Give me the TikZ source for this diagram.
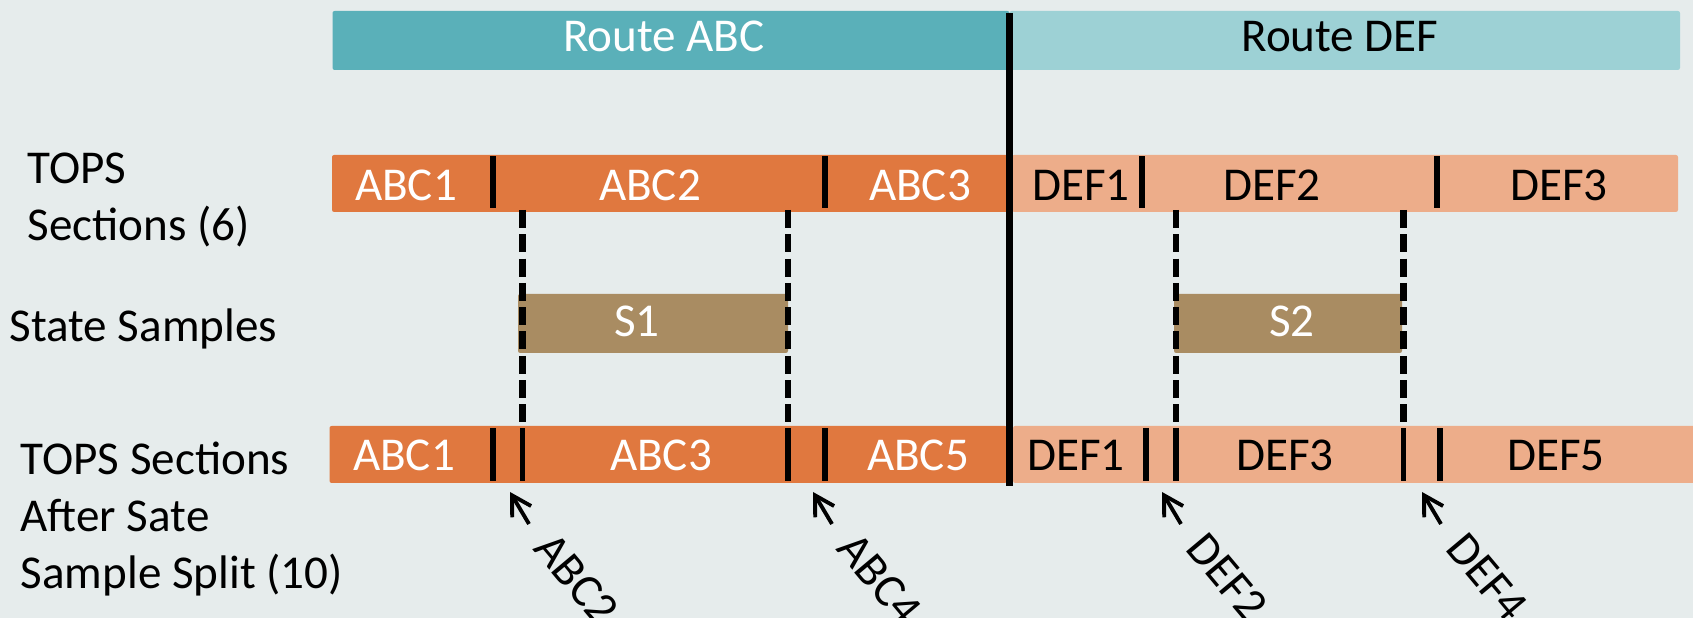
\documentclass[tikz,border=0pt]{standalone}
\usepackage{fontspec}
\setmainfont{Carlito}
\usetikzlibrary{arrows.meta}

\definecolor{routeabc}{HTML}{5AB0B9}
\definecolor{routedef}{HTML}{9DD1D5}
\definecolor{secabc}{HTML}{E0783F}
\definecolor{secdef}{HTML}{EDAD8A}
\definecolor{sample}{HTML}{A98C62}
\definecolor{backgr}{HTML}{E6ECEC}

\begin{document}
\begin{tikzpicture}[
    txt/.style={font=\fontsize{13.4}{16.3}\selectfont, inner sep=0pt},
    split/.style={line width=1.7pt},
    cut/.style={line width=1.8pt, dash pattern=on 0.18cm off 0.063cm},
    pin/.style={line width=1.1pt, -{Straight Barb[length=1.9mm,width=2.2mm]}}
  ]
    \useasboundingbox (0,0) rectangle (16.93,6.18);
    \clip (0,0) rectangle (16.93,6.18);
    \fill[backgr] (0,0) rectangle (16.93,6.18);

    % Routes
    \fill[routeabc, rounded corners=0.6pt] (3.325,5.48) rectangle (10.095,6.07);
    \fill[routedef, rounded corners=0.6pt] (10.095,5.48) rectangle (16.80,6.07);
    \node[txt, white, anchor=base] (rabc) at (6.64,5.66) {Route ABC};
    \node[txt, anchor=base] (rdef) at (13.40,5.66) {Route DEF};

    % TOPS sections (6)
    \fill[secabc, rounded corners=0.6pt] (3.32,4.06) rectangle (10.10,4.63);
    \fill[secdef, rounded corners=0.6pt] (10.12,4.06) rectangle (16.78,4.63);
    \foreach \x in {4.93,8.25,11.42,14.37}
        \draw[split] (\x,4.10) -- (\x,4.62);
    \foreach \x/\t in {4.06/ABC1,6.50/ABC2,9.20/ABC3}
        \node[txt, white, anchor=base] (top\t) at (\x,4.17) {\t};
    \foreach \x/\t in {10.81/DEF1,12.72/DEF2,15.59/DEF3}
        \node[txt, anchor=base] (top\t) at (\x,4.17) {\t};

    % State samples
    \fill[sample, rounded corners=0.6pt] (5.18,2.65) rectangle (7.88,3.24);
    \fill[sample, rounded corners=0.6pt] (11.74,2.65) rectangle (14.02,3.24);
    \node[txt, white, anchor=base] (s1) at (6.37,2.81) {S1};
    \node[txt, white, anchor=base] (s2) at (12.92,2.81) {S2};

    % cuts down to the split row
    \foreach \x in {5.225,7.88,11.76,14.035}
        \draw[cut] (\x,4.08) -- (\x,1.92);

    % TOPS sections after split (10)
    \fill[secabc, rounded corners=0.6pt] (3.295,1.35) rectangle (10.07,1.92);
    \fill[secdef, rounded corners=0.6pt] (10.13,1.35) rectangle (17.2,1.92);
    \foreach \x in {4.93,5.225,7.88,8.25,11.46,11.76,14.035,14.40}
        \draw[split] (\x,1.37) -- (\x,1.90);
    \foreach \x/\t in {4.04/ABC1,6.61/ABC3,9.18/ABC5}
        \node[txt, white, anchor=base] (bot\t) at (\x,1.47) {\t};
    \foreach \x/\t in {10.76/DEF1,12.85/DEF3,15.56/DEF5}
        \node[txt, anchor=base] (bot\t) at (\x,1.47) {\t};

    % route border
    \draw[line width=1.8pt] (10.095,6.05) -- (10.095,1.32);

    % new sections
    \foreach \x/\t in {5.10/ABC2,8.13/ABC4,11.62/DEF2,14.22/DEF4}{
        \coordinate (tip\t) at (\x,1.26);
        \coordinate (tail\t) at ([shift={(0.19,-0.32)}]tip\t);
        \draw[pin] (tail\t) -- (tip\t);
        \node[txt, rotate=-50, anchor=base west] (lbl\t) at ([shift={(0.22,-0.57)}]tip\t) {\t};
    }

    % row labels
    \node[txt, align=left, anchor=north west] (tops) at (0.27,4.66) {TOPS\\Sections (6)};
    \node[txt, anchor=base west] (samples) at (0.09,2.76) {State Samples};
    \node[txt, align=left, anchor=north west] (after) at (0.20,1.77) {TOPS Sections\\After Sate\\Sample Split (10)};
\end{tikzpicture}
\end{document}
